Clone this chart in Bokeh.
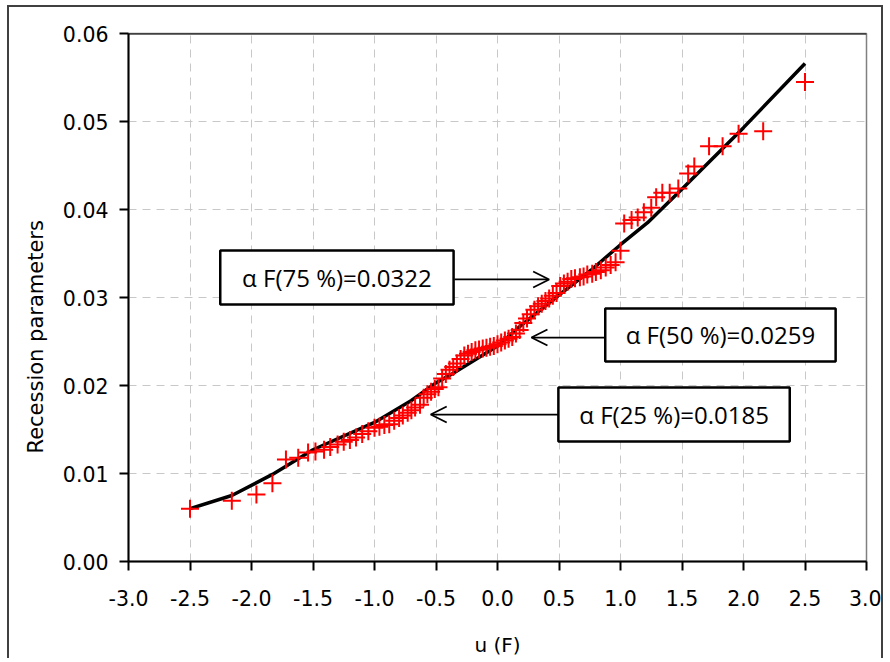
from bokeh.plotting import figure
from bokeh.models import (Range1d, FixedTicker, BoxAnnotation, Label, Arrow,
                          OpenHead, Span, NumeralTickFormatter, Title)
from bokeh.embed import file_html
from bokeh.resources import INLINE

# ---- data ----
u_obs = [-2.50, -2.16, -1.96, -1.83, -1.72, -1.62, -1.54, -1.48, -1.41, -1.36,
         -1.30, -1.25, -1.20, -1.15, -1.10, -1.05, -1.00, -0.96, -0.92, -0.88,
         -0.84, -0.80, -0.77, -0.73, -0.70, -0.67, -0.63, -0.60, -0.57, -0.54,
         -0.51, -0.48, -0.45, -0.42, -0.39, -0.36, -0.33, -0.30, -0.27, -0.24,
         -0.21, -0.18, -0.15, -0.12, -0.09, -0.06, -0.03, 0.00, 0.03, 0.06,
         0.09, 0.12, 0.15, 0.18, 0.21, 0.24, 0.27, 0.30, 0.33, 0.36,
         0.39, 0.42, 0.45, 0.48, 0.51, 0.54, 0.57, 0.60, 0.63, 0.67,
         0.70, 0.73, 0.77, 0.80, 0.84, 0.88, 0.92, 0.96, 1.00, 1.03,
         1.09, 1.14, 1.19, 1.25, 1.29, 1.34, 1.40, 1.47, 1.55, 1.60,
         1.72, 1.83, 1.96, 2.16, 2.50]
alpha_obs = [0.0060, 0.0069, 0.0076, 0.0089, 0.0116, 0.0118, 0.0124, 0.0125, 0.0127, 0.0130,
             0.0133, 0.0136, 0.0138, 0.0141, 0.0145, 0.0148, 0.0152, 0.0153, 0.0155, 0.0156,
             0.0160, 0.0163, 0.0166, 0.0169, 0.0172, 0.0175, 0.0178, 0.0186, 0.0190, 0.0193,
             0.0196, 0.0198, 0.0208, 0.0213, 0.0218, 0.0221, 0.0225, 0.0230, 0.0234, 0.0236,
             0.0238, 0.0240, 0.0241, 0.0242, 0.0243, 0.0244, 0.0245, 0.0247, 0.0249, 0.0251,
             0.0253, 0.0255, 0.0259, 0.0263, 0.0271, 0.0276, 0.0281, 0.0286, 0.0290, 0.0293,
             0.0296, 0.0299, 0.0302, 0.0305, 0.0313, 0.0316, 0.0318, 0.0321, 0.0322, 0.0323,
             0.0324, 0.0326, 0.0327, 0.0329, 0.0331, 0.0334, 0.0337, 0.0340, 0.0353, 0.0384,
             0.0388, 0.0391, 0.0397, 0.0402, 0.0414, 0.0419, 0.0419, 0.0424, 0.0441, 0.0449,
             0.0472, 0.0472, 0.0486, 0.0489, 0.0545]

u_fit = [-2.50, -2.16, -1.83, -1.50, -1.00, -0.70, -0.50, -0.37, 0.00, 0.19,
         0.52, 0.76, 1.00, 1.22, 1.49, 2.00, 2.50]
alpha_fit = [0.0060, 0.0075, 0.0099, 0.0127, 0.0158, 0.0183, 0.0203, 0.0213, 0.0245, 0.0268,
             0.0305, 0.0331, 0.0360, 0.0385, 0.0422, 0.0493, 0.0566]

x_ticks = [-3.0, -2.5, -2.0, -1.5, -1.0, -0.5, 0.0, 0.5, 1.0, 1.5, 2.0, 2.5, 3.0]
y_ticks = [0.00, 0.01, 0.02, 0.03, 0.04, 0.05, 0.06]

x_title = "u (F)"
y_title = "Recession parameters"
ann_texts = ["\u03b1 F(75 %)=0.0322", "\u03b1 F(50 %)=0.0259", "\u03b1 F(25 %)=0.0185"]

# ---- figure ----
p = figure(width=876, height=653, output_backend="svg", toolbar_location=None,
           x_range=Range1d(-3, 3), y_range=Range1d(0, 0.06),
           min_border_left=117, min_border_right=19, min_border_top=26,
           min_border_bottom=99)
p.styles = {"margin-left": "7px", "margin-top": "5px",
            "border-left": "2px solid #404040", "border-top": "2px solid #404040",
            "border-right": "2px solid #404040"}
p.background_fill_color = "white"
p.border_fill_color = "white"
p.outline_line_color = "#808080"
p.outline_line_width = 1.5

FONT = "DejaVu Sans"
for ax in (p.xaxis[0], p.yaxis[0]):
    ax.axis_line_color = "black"
    ax.axis_line_width = 2
    ax.major_tick_line_color = "black"
    ax.major_tick_line_width = 2
    ax.major_tick_out = 9
    ax.major_tick_in = 0
    ax.minor_tick_line_color = None
    ax.major_label_text_font = FONT
    ax.major_label_text_font_size = "20.5px"
    ax.major_label_text_color = "black"
    ax.axis_label_text_font = FONT
    ax.axis_label_text_font_size = "20px"
    ax.axis_label_text_font_style = "normal"
    ax.axis_label_text_color = "black"

p.xaxis.ticker = FixedTicker(ticks=x_ticks)
p.yaxis.ticker = FixedTicker(ticks=y_ticks)
p.xaxis.formatter = NumeralTickFormatter(format="0.0")
p.yaxis.formatter = NumeralTickFormatter(format="0.00")
p.xaxis.axis_label = x_title
p.xaxis.major_label_standoff = 19
p.yaxis.major_label_standoff = 11
p.xaxis.axis_label_standoff = 24

for g in (p.xgrid[0], p.ygrid[0]):
    g.grid_line_color = "#c8c8c8"
    g.grid_line_dash = "8 6"
    g.grid_line_width = 1
p.xgrid.ticker = FixedTicker(ticks=x_ticks)
p.ygrid.ticker = FixedTicker(ticks=y_ticks)

p.add_layout(Span(location=0.06, dimension="width", line_color="black", line_width=2))

p.line(u_fit, alpha_fit, line_color="black", line_width=3.5)
p.scatter(u_obs, alpha_obs, marker="cross", size=18, line_color="red", line_width=2)

# y-axis title as a side title, starting lower like in the reference
p.add_layout(Title(text=y_title, align="left", offset=108, standoff=24,
                   text_font=FONT, text_font_size="21px", text_font_style="normal",
                   text_color="black"), "left")

# ---- annotation boxes and arrows ----
boxes = [(-2.254, -0.357, 0.03534, 0.02920),
         (0.876, 2.749, 0.02875, 0.02273),
         (0.495, 2.376, 0.01977, 0.01364)]
arrows = [(-0.35, 0.42, 0.03205), (0.876, 0.276, 0.02545), (0.495, -0.543, 0.0167)]
for (l, r, t, b), txt, (xs, xe, ya) in zip(boxes, ann_texts, arrows):
    p.add_layout(Arrow(end=OpenHead(size=16, line_width=1.8, line_color="black"),
                       x_start=xs, y_start=ya, x_end=xe, y_end=ya,
                       line_width=1.8, line_color="black"))
    p.add_layout(BoxAnnotation(left=l, right=r, top=t, bottom=b,
                               fill_color="white", fill_alpha=1.0,
                               line_color="black", line_alpha=1.0, line_width=2.5))
    p.add_layout(Label(x=(l + r) / 2, y=(t + b) / 2, text=txt, text_align="center",
                       text_baseline="middle", text_font="Open Sans",
                       text_font_size="24px", text_color="black"))

open("out.html", "w").write(file_html(p, INLINE))
